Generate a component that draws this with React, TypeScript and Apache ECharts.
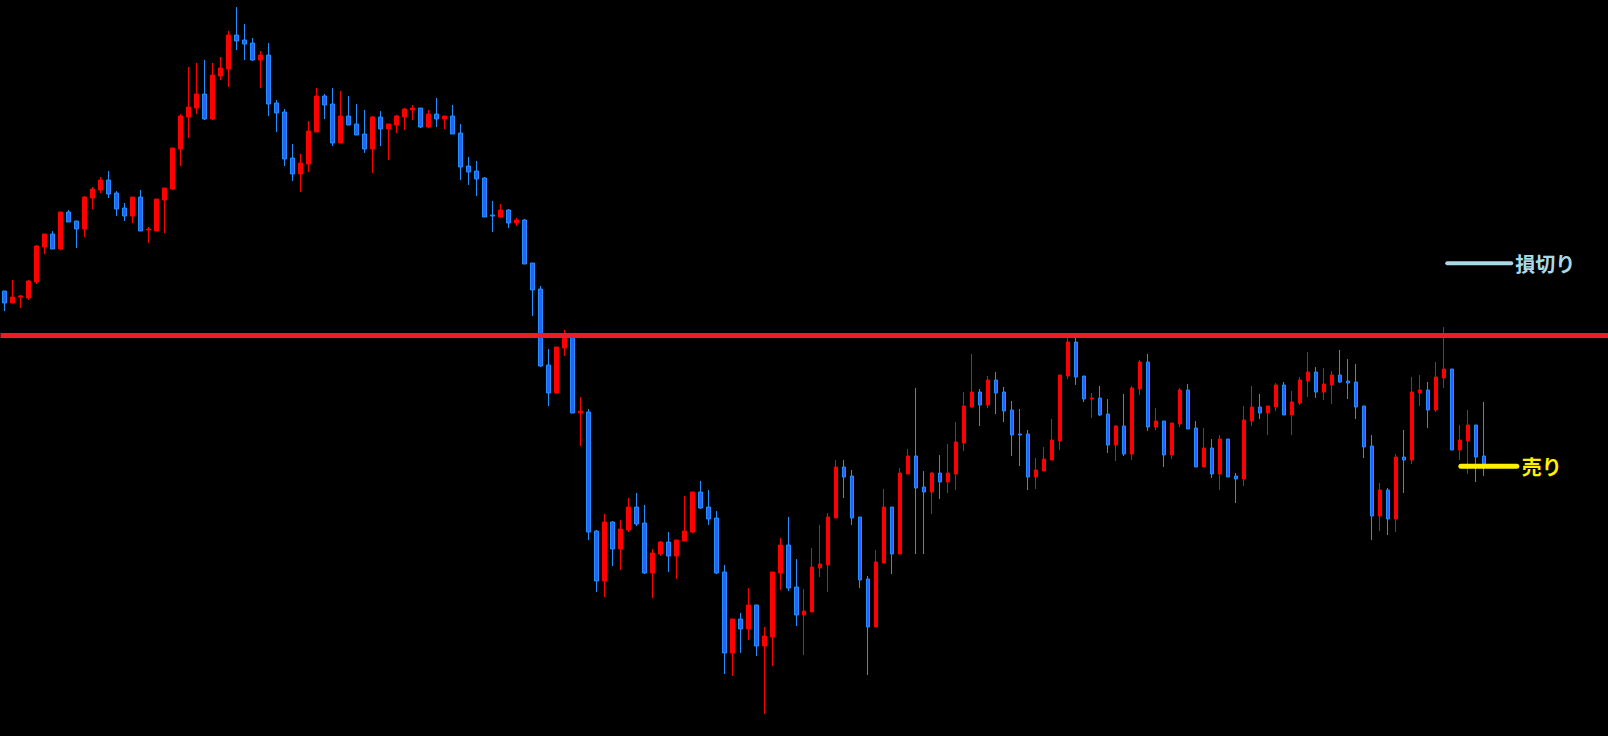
import React, { useEffect, useRef } from 'react';
import * as echarts from 'echarts';

// Candle values (open / close / low / high)
const opens = [
  709, 697, 703, 702, 718, 753, 766, 751, 788, 779,
  771, 802, 810, 820, 807, 792, 784, 803, 770, 769,
  800, 811, 851, 883, 892, 906, 881, 924, 931, 965,
  960, 957, 940, 945, 897, 888, 842, 826, 836, 868,
  904, 896, 857, 884, 876, 866, 851, 883, 871, 875,
  883, 890, 892, 873, 886, 881, 884, 867, 834, 829,
  822, 785, 783, 790, 777, 780, 737, 711, 635, 607,
  652, 664, 587, 588, 469, 419, 478, 451, 470, 493,
  477, 427, 446, 458, 444, 459, 468, 508, 493, 482,
  428, 347, 381, 371, 395, 354, 363, 427, 455, 413,
  385, 388, 432, 435, 482, 533, 524, 483, 421, 373,
  437, 493, 446, 526, 544, 513, 508, 527, 518, 526,
  557, 593, 608, 595, 620, 608, 590, 566, 566, 523,
  529, 540, 559, 624, 658, 624, 601, 602, 586, 555,
  574, 546, 611, 638, 573, 579, 545, 576, 610, 572,
  533, 552, 526, 561, 524, 521, 579, 593, 587, 593,
  615, 585, 597, 619, 628, 608, 615, 625, 619, 618,
  594, 554, 484, 510, 481, 543, 540, 607, 610, 590,
  622, 631, 550, 559, 575, 544,
];

const closes = [
  697, 703, 704, 719, 754, 766, 751, 788, 778, 771,
  803, 811, 820, 806, 791, 784, 803, 769, 771, 801,
  812, 852, 884, 893, 906, 881, 925, 932, 965, 959,
  956, 940, 945, 896, 887, 841, 826, 837, 869, 904,
  895, 857, 884, 875, 865, 851, 883, 871, 876, 884,
  891, 892, 873, 886, 881, 884, 866, 833, 828, 821,
  783, 784, 790, 777, 780, 736, 710, 634, 607, 653,
  664, 587, 589, 468, 419, 478, 451, 471, 493, 476,
  427, 447, 458, 444, 460, 469, 508, 492, 481, 427,
  347, 381, 371, 395, 354, 364, 428, 455, 412, 385,
  389, 433, 436, 483, 533, 523, 482, 420, 373, 438,
  493, 446, 527, 544, 512, 508, 527, 518, 527, 558,
  594, 608, 595, 620, 607, 589, 565, 565, 523, 530,
  541, 560, 625, 658, 623, 601, 602, 585, 555, 574,
  546, 612, 638, 573, 579, 545, 577, 610, 571, 533,
  552, 526, 561, 523, 521, 580, 593, 587, 594, 615,
  585, 598, 620, 628, 608, 616, 625, 618, 617, 593,
  553, 484, 510, 481, 543, 540, 608, 610, 590, 623,
  631, 550, 560, 575, 543, 536,
];

const lows = [
  689, 697, 692, 700, 716, 746, 751, 750, 778, 752,
  763, 791, 807, 802, 784, 779, 777, 769, 757, 769,
  767, 810, 834, 862, 886, 880, 880, 920, 913, 950,
  940, 939, 912, 884, 868, 834, 819, 808, 828, 868,
  881, 854, 857, 875, 865, 847, 827, 854, 840, 867,
  870, 880, 872, 872, 873, 871, 866, 820, 815, 804,
  783, 768, 782, 772, 774, 736, 684, 633, 594, 607,
  644, 587, 554, 460, 408, 403, 434, 430, 468, 474,
  426, 402, 444, 428, 421, 459, 467, 491, 475, 426,
  326, 324, 347, 360, 344, 286, 334, 410, 409, 374,
  345, 388, 423, 408, 482, 502, 475, 412, 325, 373,
  437, 426, 446, 526, 446, 446, 486, 501, 507, 510,
  549, 592, 574, 592, 586, 578, 544, 534, 510, 511,
  529, 540, 550, 621, 615, 598, 582, 584, 547, 539,
  544, 540, 605, 569, 570, 533, 541, 573, 571, 533,
  533, 522, 510, 523, 497, 514, 574, 581, 565, 589,
  585, 565, 595, 603, 602, 600, 596, 617, 601, 581,
  542, 460, 469, 465, 468, 507, 536, 594, 572, 588,
  612, 550, 540, 526, 518, 524,
];

const highs = [
  709, 720, 705, 720, 755, 766, 769, 788, 790, 779,
  804, 813, 823, 829, 809, 797, 803, 810, 773, 801,
  812, 852, 886, 933, 937, 940, 937, 943, 969, 993,
  976, 962, 949, 957, 900, 891, 856, 846, 879, 912,
  906, 912, 909, 904, 896, 890, 884, 889, 876, 885,
  892, 895, 892, 890, 902, 884, 895, 876, 843, 839,
  823, 799, 796, 791, 782, 781, 737, 714, 651, 653,
  670, 665, 603, 591, 470, 486, 479, 480, 502, 507,
  495, 451, 459, 468, 460, 504, 508, 519, 510, 489,
  435, 381, 387, 412, 395, 373, 428, 462, 483, 441,
  411, 452, 475, 487, 540, 540, 530, 483, 424, 450,
  511, 493, 532, 551, 612, 529, 528, 545, 556, 578,
  608, 646, 611, 624, 628, 613, 599, 591, 570, 542,
  553, 581, 625, 663, 663, 624, 607, 614, 601, 575,
  606, 614, 640, 646, 592, 579, 577, 612, 616, 579,
  572, 561, 565, 561, 527, 594, 614, 606, 594, 617,
  618, 609, 623, 648, 633, 632, 629, 650, 641, 636,
  594, 565, 517, 512, 546, 570, 623, 625, 618, 638,
  673, 631, 575, 590, 575, 598,
];

// Price levels
const resistanceLevel = 664.5;
const stopLossLevel = 736.7;
const sellLevel = 533.7;
const stopLossText = '損切り';
const sellText = '売り';

// Level marker extents, in candle-slot units
const stopLossSpan = [180.4, 188.4];
const sellSpan = [182.1, 189.1];

const priceMin = 264;
const priceMax = 1000;
const emptySlots = 15;

export default function App() {
  const ref = useRef<HTMLDivElement>(null);

  useEffect(() => {
    if (!ref.current) return;
    const chart = echarts.init(ref.current, null, { renderer: 'svg' });
    const slotCount = opens.length + emptySlots;
    const categories = Array.from({ length: slotCount }, (_, i) => String(i + 1));
    const candles = opens.map((o, i) => [o, closes[i], lows[i], highs[i]]);
    const labelFont = '"Noto Sans CJK JP", "Noto Sans", sans-serif';

    chart.setOption({
      animation: false,
      backgroundColor: '#000000',
      grid: { left: 0.5, width: 1608, top: 0, bottom: 0, containLabel: false },
      xAxis: [
        { type: 'category', data: categories, show: false, boundaryGap: true },
        { type: 'value', min: -0.5, max: slotCount - 0.5, show: false },
      ],
      yAxis: { type: 'value', min: priceMin, max: priceMax, show: false, splitLine: { show: false } },
      series: [
        {
          type: 'candlestick',
          data: candles,
          barWidth: 4,
          itemStyle: {
            color: '#ff0000',
            borderColor: '#ff0000',
            color0: '#2f5cff',
            borderColor0: '#1e90ff',
            borderWidth: 1,
          },
          markLine: {
            silent: true,
            symbol: ['none', 'none'],
            label: { show: false },
            lineStyle: { color: '#ee1c25', width: 5, type: 'solid' },
            data: [{ yAxis: resistanceLevel }],
          },
        },
        {
          type: 'line',
          xAxisIndex: 1,
          data: [
            [stopLossSpan[0], stopLossLevel],
            [stopLossSpan[1], stopLossLevel],
          ],
          showSymbol: false,
          silent: true,
          lineStyle: { color: '#a9d9e6', width: 4, cap: 'round' },
          endLabel: {
            show: true,
            formatter: stopLossText,
            color: '#a9d9e6',
            fontSize: 20,
            fontWeight: 'bold',
            fontFamily: labelFont,
            distance: 4,
          },
        },
        {
          type: 'line',
          xAxisIndex: 1,
          data: [
            [sellSpan[0], sellLevel],
            [sellSpan[1], sellLevel],
          ],
          showSymbol: false,
          silent: true,
          lineStyle: { color: '#fff000', width: 5, cap: 'round' },
          endLabel: {
            show: true,
            formatter: sellText,
            color: '#fff000',
            fontSize: 20,
            fontWeight: 'bold',
            fontFamily: labelFont,
            distance: 5,
          },
        },
      ],
    });

    return () => chart.dispose();
  }, []);

  return (
    <div
      ref={ref}
      style={{ position: 'fixed', left: 0, top: 0, width: 1608, height: 736, background: '#000000' }}
    />
  );
}
